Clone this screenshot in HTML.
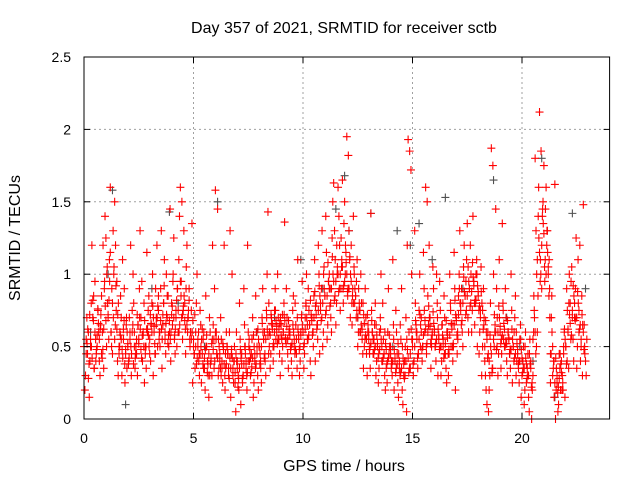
<!DOCTYPE html>
<html><head><meta charset="utf-8"><style>
body{margin:0;background:#fff}
svg text{font-family:"Liberation Sans",sans-serif;font-size:14px;fill:#000}
svg text.big{font-size:16px}
</style></head><body>
<svg id="chart" width="640" height="480">
<text class="big" x="344" y="33" text-anchor="middle">Day 357 of 2021, SRMTID for receiver sctb</text>
<g id="grid"></g>
<g id="pts"></g>
<rect x="84" y="57" width="525.6" height="362" fill="none" stroke="#000" stroke-width="1"/>
<g id="ticks"></g>
<text class="big" x="344" y="471" text-anchor="middle">GPS time / hours</text>
<text class="big" transform="translate(20,238) rotate(-90)" text-anchor="middle">SRMTID / TECUs</text>
</svg>
<script>
const xTicks=[0,5,10,15,20];
const yTicks=[0,0.5,1,1.5,2,2.5];
const yTickLabels=["0","0.5","1","1.5","2","2.5"];
// red series: [hour, [values...]] groups every 0.2 h
const redData=[
[0.0,[0.5,0.3,0.7,0.2,0.55,0.45]],[0.2,[0.6,0.4,0.8,0.15,0.5,1.2]],[0.4,[0.7,0.35,0.55,0.85,0.95,0.45]],
[0.6,[0.5,0.6,0.3,0.75,0.4,0.65]],[0.8,[0.45,1.2,0.9,0.6,0.35,1.4]],[1.0,[1.25,0.8,0.55,1.0,0.7,1.1]],
[1.2,[1.6,0.9,1.3,0.6,0.45,1.0]],[1.4,[1.5,0.75,0.4,1.2,0.95,0.3]],[1.6,[0.5,0.85,0.3,0.6,0.7,1.1]],
[1.8,[0.55,0.25,0.65,0.9,0.45,0.35]],[2.0,[0.5,0.7,1.2,0.4,0.6,0.3]],[2.2,[0.6,0.8,0.35,1.0,0.5,0.45]],
[2.4,[0.45,0.65,0.9,0.3,0.55,1.3]],[2.6,[0.7,0.4,0.5,0.95,0.6,0.25]],[2.8,[0.5,1.15,0.75,0.35,0.6,0.85]],
[3.0,[0.55,0.65,1.0,0.4,0.8,0.3]],[3.2,[0.6,0.9,1.2,0.45,0.7,0.5]],[3.4,[0.75,0.5,1.3,0.6,0.9,0.35]],
[3.6,[0.65,1.1,0.45,0.8,0.55,1.0]],[3.8,[0.7,0.5,1.45,0.85,0.6,0.4]],[4.0,[0.8,1.0,0.55,0.65,1.25,0.45]],
[4.2,[0.7,0.9,1.1,0.5,0.6,1.4]],[4.4,[1.6,1.5,0.75,0.95,0.55,1.3]],[4.6,[0.8,1.05,0.6,0.45,1.2,0.7]],
[4.8,[0.9,0.6,1.35,0.5,0.75,0.25]],[5.0,[0.55,0.35,0.8,0.45,0.6,1.0]],[5.2,[0.5,0.3,0.65,0.4,0.75,0.25]],
[5.4,[0.45,0.6,0.2,0.55,0.35,0.85]],[5.6,[0.5,0.3,0.7,0.4,0.15,0.6]],[5.8,[0.4,1.2,0.55,0.3,0.65,0.9]],
[6.0,[1.58,0.45,0.3,0.6,1.45,0.35]],[6.2,[0.4,0.55,0.25,0.7,0.35,0.5]],[6.4,[1.2,0.35,0.5,0.2,0.6,0.45]],
[6.6,[0.3,1.3,0.45,0.6,0.15,1.0]],[6.8,[0.35,0.5,0.05,0.4,0.25,0.6]],[7.0,[0.4,0.2,0.55,0.3,0.8,0.1]],
[7.2,[0.45,0.3,0.65,0.25,0.9,0.5]],[7.4,[0.35,1.2,0.5,0.2,0.6,0.4]],[7.6,[0.3,0.55,0.15,0.45,0.7,0.25]],
[7.8,[0.4,0.6,0.3,0.85,0.5,0.2]],[8.0,[0.5,0.35,0.7,0.45,0.25,0.9]],[8.2,[0.55,0.4,0.75,0.6,0.3,1.0]],
[8.4,[1.43,0.6,0.45,0.8,0.35,0.7]],[8.6,[0.65,0.5,0.9,0.4,0.75,0.55]],[8.8,[0.6,0.7,0.45,1.0,0.55,0.3]],
[9.0,[0.65,0.5,0.8,0.4,0.6,1.36]],[9.2,[0.55,0.7,0.35,0.9,0.45,0.6]],[9.4,[0.6,0.4,0.75,0.5,0.3,0.85]],
[9.6,[0.5,0.65,0.35,0.8,0.45,1.1]],[9.8,[0.55,0.4,0.7,0.3,0.6,0.95]],[10.0,[0.6,0.45,0.8,0.35,0.7,1.0]],
[10.2,[0.55,0.75,0.4,0.9,0.65,0.3]],[10.4,[0.7,0.5,1.1,0.6,0.85,0.4]],[10.6,[0.8,0.55,1.0,0.65,1.2,0.45]],
[10.8,[0.75,1.3,0.6,0.9,0.5,1.05]],[11.0,[0.85,1.15,0.65,1.4,0.55,0.95]],[11.2,[1.0,0.7,1.25,0.9,0.6,1.5]],
[11.4,[1.63,1.1,0.8,1.3,0.65,1.0]],[11.6,[1.6,1.2,0.9,1.4,0.75,1.05]],[11.8,[1.65,1.35,1.0,0.8,1.5,1.15]],
[12.0,[1.95,1.82,1.1,0.85,1.3,0.7]],[12.2,[1.2,0.9,1.05,0.65,1.4,0.8]],[12.4,[0.85,1.1,0.6,0.95,0.5,0.75]],
[12.6,[0.6,0.8,0.45,1.0,0.55,0.35]],[12.8,[0.5,0.7,0.3,0.9,0.45,0.6]],[13.0,[0.55,0.35,0.75,0.45,1.42,0.6]],
[13.2,[0.45,0.65,0.3,0.55,0.8,0.4]],[13.4,[0.5,0.35,0.7,0.25,0.6,1.0]],[13.6,[0.4,0.55,0.3,0.8,0.45,0.2]],
[13.8,[0.35,0.6,0.45,0.25,0.9,0.5]],[14.0,[0.5,0.3,0.65,0.4,1.1,0.2]],[14.2,[0.4,0.6,0.25,0.75,0.45,0.15]],
[14.4,[0.35,0.55,0.2,0.65,0.9,0.1]],[14.6,[0.3,0.5,0.05,0.4,0.7,1.2]],[14.8,[1.93,1.85,1.72,0.6,0.35,1.0]],
[15.0,[0.55,0.4,0.8,0.3,1.3,0.65]],[15.2,[0.6,0.45,1.0,0.35,0.75,0.5]],[15.4,[0.7,0.5,0.9,0.4,1.15,0.6]],
[15.6,[1.6,1.5,0.65,0.45,0.85,1.2]],[15.8,[0.7,0.5,1.05,0.35,0.6,0.9]],[16.0,[0.6,0.4,0.8,0.5,1.0,0.3]],
[16.2,[0.55,0.75,0.4,0.95,0.3,0.65]],[16.4,[0.5,0.7,0.35,0.85,0.45,0.25]],[16.6,[0.6,0.45,0.8,0.3,1.0,0.5]],
[16.8,[0.65,0.5,0.9,0.4,1.15,0.2]],[17.0,[0.7,0.55,1.0,0.45,0.85,1.3]],[17.2,[0.8,0.6,1.05,0.9,0.5,1.2]],
[17.4,[0.85,1.1,0.7,0.95,1.35,0.6]],[17.6,[0.9,1.0,0.75,1.2,0.6,1.4]],[17.8,[0.95,0.8,1.1,0.65,1.0,0.5]],
[18.0,[0.85,0.6,1.05,0.45,0.75,0.3]],[18.2,[0.5,0.7,0.3,0.9,0.4,0.2]],[18.4,[0.1,0.05,0.3,0.6,0.2,0.8]],
[18.6,[1.87,1.75,0.5,0.35,1.0,0.6]],[18.8,[1.45,0.7,0.45,0.9,0.3,1.1]],[19.0,[0.6,0.45,0.8,0.35,1.35,0.55]],
[19.2,[0.5,0.7,0.3,0.9,0.4,0.6]],[19.4,[0.55,0.35,0.75,0.45,1.0,0.25]],[19.6,[0.5,0.7,0.3,0.6,0.85,0.4]],
[19.8,[0.45,0.25,0.65,0.35,0.55,0.15]],[20.0,[0.3,0.5,0.2,0.4,0.1,0.6]],[20.2,[0.25,0.45,0.05,0.35,0.15,0.55]],
[20.4,[0.4,0.2,0.6,0.0,0.3,0.75]],[20.6,[1.8,1.0,0.85,1.3,0.6,1.6]],[20.8,[2.12,1.85,1.4,1.1,0.9,1.5]],
[21.0,[1.75,1.45,1.2,0.95,1.6,1.3]],[21.2,[1.0,0.7,0.45,1.1,0.25,0.85]],[21.4,[0.3,0.15,0.0,0.4,1.62,0.2]],
[21.6,[0.25,0.1,0.35,0.05,0.45,0.2]],[21.8,[0.4,0.2,0.6,0.3,0.5,0.15]],[22.0,[0.5,0.75,0.35,0.9,0.6,1.0]],
[22.2,[0.8,1.05,0.55,0.95,0.7,0.4]],[22.4,[0.7,1.25,0.5,0.9,0.35,1.1]],[22.6,[0.6,0.4,0.85,1.2,0.5,0.3]],
[22.8,[1.48,0.45,0.3,0.65,0.4,0.55]]
];
// second pass of red samples, offset groups
const redData2=[
[0.1,[0.45,0.62,0.38,0.52,0.28,0.72]],[0.3,[0.55,0.42,0.68,0.5,0.82,0.35]],[0.5,[0.6,0.48,0.76,0.4,0.58,0.66]],
[0.7,[0.55,0.72,0.42,0.62,0.85,0.48]],[0.9,[0.62,0.78,0.5,0.95,0.68,1.05]],[1.1,[0.72,0.95,0.6,0.82,1.15,0.5]],
[1.3,[0.8,1.05,0.65,0.7,0.55,0.92]],[1.5,[0.62,0.8,0.5,0.72,0.45,0.58]],[1.7,[0.55,0.42,0.68,0.48,0.62,0.38]],
[1.9,[0.48,0.6,0.38,0.7,0.52,0.42]],[2.1,[0.55,0.45,0.65,0.5,0.75,0.38]],[2.3,[0.6,0.5,0.72,0.42,0.55,0.65]],
[2.5,[0.52,0.62,0.42,0.7,0.48,0.58]],[2.7,[0.58,0.68,0.5,0.8,0.45,0.62]],[2.9,[0.62,0.5,0.72,0.58,0.45,0.66]],
[3.1,[0.6,0.7,0.52,0.78,0.64,0.45]],[3.3,[0.65,0.78,0.55,0.7,0.85,0.6]],[3.5,[0.68,0.55,0.8,0.62,0.72,0.92]],
[3.7,[0.6,0.72,0.52,0.66,0.85,0.58]],[3.9,[0.68,0.6,0.78,0.55,0.72,0.95]],[4.1,[0.7,0.62,0.82,0.58,0.75,0.9]],
[4.3,[0.75,0.65,0.85,0.6,0.95,0.7]],[4.5,[0.72,0.85,0.62,0.78,0.68,0.9]],[4.7,[0.65,0.75,0.55,0.7,0.82,0.6]],
[4.9,[0.55,0.68,0.45,0.6,0.5,0.72]],[5.1,[0.5,0.42,0.6,0.38,0.55,0.45]],[5.3,[0.45,0.55,0.38,0.5,0.62,0.35]],
[5.5,[0.42,0.5,0.32,0.48,0.58,0.38]],[5.7,[0.45,0.38,0.52,0.3,0.42,0.55]],[5.9,[0.48,0.4,0.55,0.35,0.6,0.45]],
[6.1,[0.42,0.5,0.35,0.55,0.45,0.3]],[6.3,[0.4,0.48,0.3,0.52,0.38,0.45]],[6.5,[0.38,0.45,0.28,0.5,0.35,0.42]],
[6.7,[0.35,0.42,0.25,0.48,0.3,0.4]],[6.9,[0.32,0.4,0.22,0.45,0.35,0.28]],[7.1,[0.35,0.42,0.28,0.48,0.38,0.3]],
[7.3,[0.38,0.45,0.3,0.5,0.4,0.32]],[7.5,[0.4,0.48,0.32,0.55,0.42,0.36]],[7.7,[0.42,0.5,0.35,0.58,0.45,0.38]],
[7.9,[0.45,0.55,0.38,0.62,0.5,0.4]],[8.1,[0.5,0.6,0.42,0.66,0.55,0.45]],[8.3,[0.55,0.62,0.45,0.7,0.58,0.5]],
[8.5,[0.58,0.66,0.5,0.72,0.62,0.52]],[8.7,[0.6,0.68,0.52,0.75,0.64,0.55]],[8.9,[0.62,0.7,0.55,0.66,0.58,0.72]],
[9.1,[0.6,0.68,0.52,0.72,0.56,0.64]],[9.3,[0.55,0.62,0.48,0.68,0.58,0.5]],[9.5,[0.52,0.6,0.45,0.65,0.55,0.48]],
[9.7,[0.55,0.62,0.48,0.7,0.58,0.5]],[9.9,[0.58,0.65,0.5,0.72,0.6,0.52]],[10.1,[0.62,0.7,0.55,0.78,0.65,0.58]],
[10.3,[0.65,0.72,0.58,0.82,0.68,0.6]],[10.5,[0.7,0.78,0.62,0.88,0.72,0.65]],[10.7,[0.75,0.85,0.68,0.92,0.8,0.7]],
[10.9,[0.8,0.9,0.72,1.0,0.85,0.75]],[11.1,[0.85,0.95,0.78,1.08,0.9,0.8]],[11.3,[0.9,1.0,0.82,1.12,0.95,0.85]],
[11.5,[0.95,1.05,0.88,1.2,1.0,0.9]],[11.7,[1.0,1.1,0.9,1.25,1.05,0.92]],[11.9,[0.95,1.08,0.88,1.2,1.0,0.9]],
[12.1,[0.9,1.0,0.8,1.12,0.95,0.85]],[12.3,[0.8,0.9,0.7,1.0,0.85,0.75]],[12.5,[0.7,0.8,0.6,0.9,0.75,0.65]],
[12.7,[0.62,0.72,0.55,0.8,0.66,0.58]],[12.9,[0.55,0.65,0.48,0.72,0.6,0.5]],[13.1,[0.52,0.6,0.45,0.68,0.55,0.48]],
[13.3,[0.5,0.58,0.42,0.65,0.52,0.45]],[13.5,[0.48,0.55,0.4,0.62,0.5,0.42]],[13.7,[0.45,0.52,0.38,0.6,0.48,0.4]],
[13.9,[0.42,0.5,0.35,0.58,0.45,0.38]],[14.1,[0.4,0.48,0.32,0.55,0.42,0.35]],[14.3,[0.38,0.45,0.3,0.52,0.4,0.32]],
[14.5,[0.35,0.42,0.28,0.5,0.38,0.3]],[14.7,[0.4,0.48,0.32,0.55,0.42,0.35]],[14.9,[0.45,0.55,0.38,0.62,0.5,0.4]],
[15.1,[0.5,0.6,0.42,0.68,0.55,0.45]],[15.3,[0.55,0.65,0.48,0.72,0.6,0.5]],[15.5,[0.58,0.68,0.5,0.75,0.62,0.52]],
[15.7,[0.6,0.7,0.52,0.78,0.64,0.55]],[15.9,[0.58,0.66,0.5,0.74,0.62,0.52]],[16.1,[0.55,0.62,0.48,0.7,0.58,0.5]],
[16.3,[0.5,0.58,0.42,0.65,0.55,0.45]],[16.5,[0.52,0.6,0.45,0.68,0.56,0.48]],[16.7,[0.58,0.66,0.5,0.75,0.62,0.52]],
[16.9,[0.65,0.72,0.58,0.82,0.68,0.6]],[17.1,[0.72,0.8,0.65,0.9,0.75,0.68]],[17.3,[0.8,0.88,0.72,0.98,0.85,0.75]],
[17.5,[0.85,0.95,0.78,1.05,0.9,0.8]],[17.7,[0.88,0.98,0.8,1.08,0.92,0.82]],[17.9,[0.82,0.92,0.75,1.0,0.88,0.78]],
[18.1,[0.7,0.8,0.62,0.88,0.75,0.65]],[18.3,[0.5,0.6,0.42,0.68,0.55,0.45]],[18.5,[0.4,0.5,0.32,0.58,0.45,0.35]],
[18.7,[0.55,0.65,0.48,0.72,0.6,0.5]],[18.9,[0.6,0.7,0.52,0.78,0.64,0.55]],[19.1,[0.58,0.66,0.5,0.75,0.62,0.52]],
[19.3,[0.52,0.6,0.45,0.68,0.56,0.48]],[19.5,[0.48,0.55,0.4,0.62,0.5,0.42]],[19.7,[0.45,0.52,0.38,0.6,0.48,0.4]],
[19.9,[0.4,0.48,0.32,0.55,0.42,0.35]],[20.1,[0.35,0.42,0.28,0.5,0.38,0.3]],[20.3,[0.3,0.38,0.22,0.45,0.35,0.25]],
[20.5,[0.55,0.7,0.45,0.85,0.6,0.5]],[20.7,[1.1,1.25,0.95,1.4,1.15,1.0]],[20.9,[1.2,1.35,1.05,1.45,1.28,1.1]],
[21.1,[1.0,1.15,0.85,1.3,1.05,0.9]],[21.3,[0.45,0.6,0.35,0.7,0.5,0.4]],[21.5,[0.25,0.35,0.18,0.42,0.3,0.22]],
[21.7,[0.28,0.38,0.2,0.45,0.32,0.25]],[21.9,[0.45,0.55,0.38,0.62,0.5,0.4]],[22.1,[0.62,0.72,0.55,0.8,0.66,0.58]],
[22.3,[0.75,0.85,0.68,0.92,0.8,0.7]],[22.5,[0.7,0.8,0.62,0.88,0.75,0.65]],[22.7,[0.55,0.65,0.48,0.72,0.6,0.5]]
];
const grayT=[0.3,1.1,1.3,1.9,3.1,3.9,4.3,5.5,6.1,7.9,8.7,9.9,10.9,11.5,11.9,12.1,12.5,13.1,14.1,14.3,14.9,15.3,15.9,16.5,17.3,18.7,19.3,19.9,20.5,20.9,21.5,22.3,22.9];
const grayV=[0.6,1.0,1.58,0.1,0.9,1.43,0.8,0.5,1.5,0.6,0.7,1.1,0.9,1.45,1.68,1.3,0.7,1.42,0.5,1.3,1.2,1.35,1.1,1.53,0.9,1.65,0.7,0.5,0.4,1.8,0.15,1.42,0.9];
const NS='http://www.w3.org/2000/svg';
const X0=84,X1=609.6,Y0=419,Y1=57;
const xs=h=>X0+h/24*(X1-X0);
const ys=v=>Y0-v/2.5*(Y0-Y1);
const grid=document.getElementById('grid'),ticks=document.getElementById('ticks'),pts=document.getElementById('pts'),svg=document.getElementById('chart');
function ln(p,x1,y1,x2,y2,st,da){const l=document.createElementNS(NS,'line');l.setAttribute('x1',x1);l.setAttribute('y1',y1);l.setAttribute('x2',x2);l.setAttribute('y2',y2);l.setAttribute('stroke',st);if(da)l.setAttribute('stroke-dasharray',da);p.appendChild(l);return l;}
xTicks.forEach(t=>{const x=xs(t);
 if(t>0){const g=ln(grid,x,Y0,x,Y1,'#a0a0a0','2,3');}
 ln(ticks,x,Y0,x,Y0-6,'#000');ln(ticks,x,Y1,x,Y1+6,'#000');
 const tx=document.createElementNS(NS,'text');tx.setAttribute('x',x);tx.setAttribute('y',443);tx.setAttribute('text-anchor','middle');tx.textContent=t;
 
 svg.appendChild(tx);});
yTicks.forEach((t,i)=>{const y=ys(t);
 if(t>0&&t<2.5){const g=ln(grid,X0,y,X1,y,'#a0a0a0','2,3');}
 ln(ticks,X0,y,X0+6,y,'#000');ln(ticks,X1,y,X1-6,y,'#000');
 const tx=document.createElementNS(NS,'text');tx.setAttribute('x',71);tx.setAttribute('y',y+5);tx.setAttribute('text-anchor','end');tx.textContent=yTickLabels[i];
 
 svg.appendChild(tx);});
function plus(h,v,c,name){const x=xs(h),y=ys(v);const p=document.createElementNS(NS,'path');
 p.setAttribute('d',`M${x-4} ${y}H${x+4}M${x} ${y-4}V${y+4}`);p.setAttribute('stroke',c);p.setAttribute('stroke-width','1.1');p.setAttribute('fill','none');
 
 pts.appendChild(p);}
grayT.forEach((t,i)=>plus(t,grayV[i],'#505050','gray-point'));
const offs=[0,0.07,0.13,0.04,0.1,0.16];
redData.forEach(([t,vals])=>vals.forEach((v,j)=>plus(t+offs[j],v,'#ff0000','red-point')));
redData2.forEach(([t,vals])=>vals.forEach((v,j)=>plus(t+offs[j],v,'#ff0000','red-point')));
</script>
</body></html>
